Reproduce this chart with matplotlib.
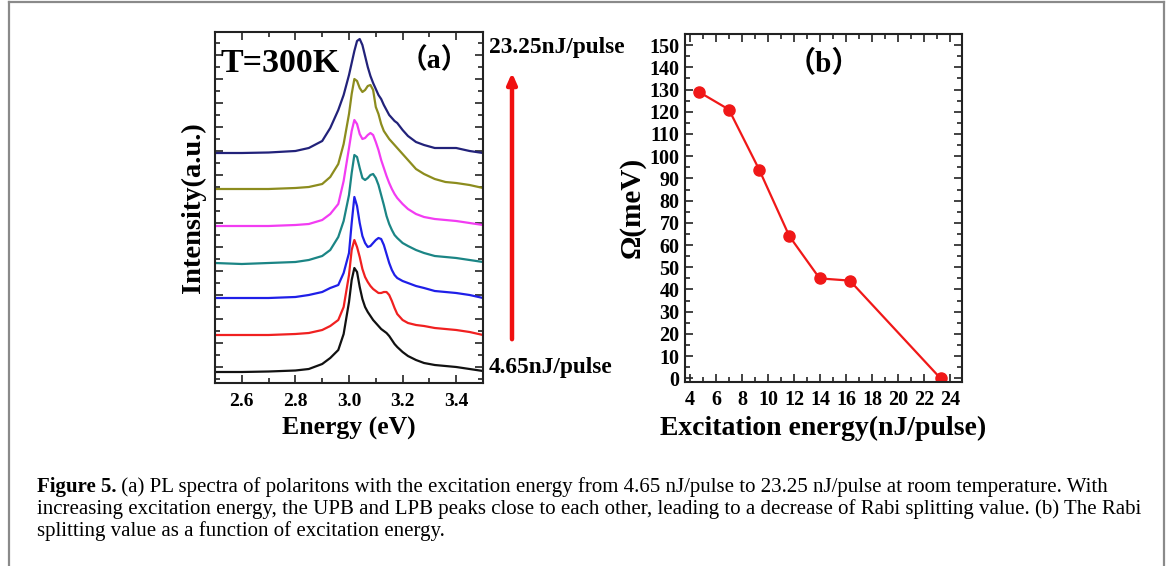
import numpy as np
import matplotlib
matplotlib.use("Agg")
import matplotlib.pyplot as plt
from matplotlib.ticker import MultipleLocator, FixedLocator, NullFormatter
from matplotlib.patches import FancyArrowPatch
from matplotlib.lines import Line2D

# ---------------- data: panel (a) PL spectra ----------------
energy = [2.50, 2.60, 2.70, 2.80, 2.85, 2.90, 2.93, 2.96, 2.98, 3.00, 3.01, 3.02,
          3.03, 3.04, 3.05, 3.06, 3.07, 3.08, 3.09, 3.10, 3.11, 3.12, 3.13, 3.14,
          3.15, 3.16, 3.17, 3.18, 3.20, 3.22, 3.25, 3.28, 3.32, 3.36, 3.40, 3.45, 3.50]

pl_black = [0, 0, 0.5, 1.5, 3, 8, 14, 22, 38, 70, 92, 104, 100, 85, 73, 65, 60, 56, 52,
            49, 46, 43, 41, 39, 36, 32, 28, 25, 20, 16, 12, 9, 7, 6, 5, 3, 1]
pl_red = [0, 0, 0, 1, 2, 5, 9, 15, 28, 60, 85, 95, 88, 78, 66, 58, 53, 49, 46,
          44, 42, 42, 43, 43, 40, 34, 27, 21, 15, 12, 10, 9, 7, 6, 5, 3, 0]
pl_blue = [0, 0, 0, 1, 3, 6, 10, 13, 25, 45, 75, 101, 92, 75, 62, 55, 51, 52, 55,
           58, 60, 59, 53, 44, 35, 28, 23, 20, 17, 15, 12, 10, 7, 6, 5, 3, 0]
pl_teal = [0, -1, 0, 1, 3, 7, 13, 26, 42, 68, 90, 108, 106, 95, 85, 83, 85, 88, 89,
           85, 78, 68, 58, 47, 39, 33, 28, 25, 20, 17, 13, 10, 7, 6, 5, 3, 1]
pl_magenta = [0, 0, 0, 1, 2, 6, 12, 22, 45, 78, 95, 106, 102, 92, 87, 88, 91, 93, 91,
              84, 76, 66, 58, 50, 43, 37, 32, 28, 22, 17, 12, 9, 7, 6, 5, 3, 1]
pl_olive = [0, 0, 0, 1, 2, 5, 12, 25, 45, 75, 95, 110, 108, 101, 97, 99, 103, 104, 99,
            82, 75, 65, 58, 54, 50, 47, 44, 41, 35, 29, 20, 15, 10, 7, 6, 4, 1]
pl_navy = [0, 0, 0.5, 2, 5, 12, 25, 43, 58, 78, 90, 102, 112, 114, 108, 97, 86, 77, 70,
           64, 58, 54, 48, 43, 38, 35, 32, 30, 23, 17, 11, 8, 5, 5, 5, 2, 0]

spectra = [pl_black, pl_red, pl_blue, pl_teal, pl_magenta, pl_olive, pl_navy]
offsets = [11, 48, 85, 120, 157, 194, 230]
colors = ["#111111", "#f02020", "#1f1fe8", "#1b8585", "#f23cf2", "#8c8c1e", "#22227a"]

label_low = "4.65nJ/pulse"
label_high = "23.25nJ/pulse"

# ---------------- data: panel (b) Rabi splitting ----------------
excitation = [4.65, 6.975, 9.3, 11.625, 13.95, 16.275, 23.25]
rabi = [129, 121, 94, 64, 45, 44, 0]

caption_bold = "Figure 5."
caption_lines = [
    " (a) PL spectra of polaritons with the excitation energy from 4.65 nJ/pulse to 23.25 nJ/pulse at room temperature. With",
    "increasing excitation energy, the UPB and LPB peaks close to each other, leading to a decrease of Rabi splitting value. (b) The Rabi",
    "splitting value as a function of excitation energy.",
]

# ---------------- figure ----------------
W, H = 1171, 566
fig = plt.figure(figsize=(W / 100, H / 100), dpi=100)
serif = ["Liberation Serif", "Noto Sans CJK SC", "DejaVu Serif"]
plt.rcParams["font.family"] = serif


def fx(px):
    return px / W


def fy(py):
    return 1 - py / H


# panel (a)
axA = fig.add_axes([fx(215), fy(383), fx(483) - fx(215), fy(32) - fy(383)])
for spec, off, c in zip(spectra, offsets, colors):
    axA.plot(energy, np.array(spec) + off, color=c, lw=1.6)
axA.set_xlim(2.5, 3.5)
axA.set_ylim(0, 351)
axA.xaxis.set_major_locator(FixedLocator([2.6, 2.8, 3.0, 3.2, 3.4]))
axA.xaxis.set_minor_locator(MultipleLocator(0.1))
axA.yaxis.set_major_locator(FixedLocator(np.arange(16, 351, 24)))
axA.yaxis.set_minor_locator(FixedLocator(np.arange(4, 351, 12)))
axA.yaxis.set_major_formatter(NullFormatter())
axA.set_xlabel("Energy (eV)", fontsize=18.5, fontweight="bold", labelpad=5)
axA.set_ylabel("Intensity(a.u.)", fontsize=20.5, fontweight="bold", labelpad=3)
axA.text(0.02, 0.955, "T=300K", transform=axA.transAxes, fontsize=24.5,
         fontweight="bold", va="top", ha="left")
axA.text(0.82, 0.955, "（a）", transform=axA.transAxes, fontsize=20,
         fontweight="bold", va="top", ha="center")

# panel (b)
axB = fig.add_axes([fx(685), fy(381.7), fx(962) - fx(685), fy(34) - fy(381.7)])
axB.plot(excitation, rabi, color="#f01818", lw=1.6, marker="o", ms=8,
         markerfacecolor="#f01818", markeredgecolor="#f01818")
axB.set_xlim(3.6, 24.9)
axB.set_ylim(-1.5, 155)
axB.xaxis.set_major_locator(MultipleLocator(2))
axB.xaxis.set_minor_locator(MultipleLocator(1))
axB.yaxis.set_major_locator(MultipleLocator(10))
axB.yaxis.set_minor_locator(MultipleLocator(5))
axB.set_xlabel("Excitation energy(nJ/pulse)", fontsize=20, fontweight="bold", labelpad=4)
axB.set_ylabel("Ω(meV)", fontsize=21, fontweight="bold", labelpad=3)
axB.text(0.5, 0.955, "（b）", transform=axB.transAxes, fontsize=21,
         fontweight="bold", va="top", ha="center")

for ax in (axA, axB):
    for s in ax.spines.values():
        s.set_linewidth(1.5)
        s.set_color("#222222")
    ax.tick_params(which="both", direction="in", top=True, right=True,
                   color="#222222", width=1.2)
    ax.tick_params(which="major", length=6)
    ax.tick_params(which="minor", length=3.5)
axA.tick_params(axis="x", labelsize=14, pad=7)
axB.tick_params(axis="x", labelsize=14.5, pad=6)
axB.tick_params(axis="y", labelsize=14.5, pad=4)
for ax in (axA, axB):
    for lab in ax.get_xticklabels() + ax.get_yticklabels():
        lab.set_fontweight("bold")

# excitation range annotation
fig.text(fx(489), fy(47), label_high, fontsize=16.8, fontweight="bold",
         ha="left", va="center")
fig.text(fx(489), fy(368), label_low, fontsize=16.8, fontweight="bold",
         ha="left", va="center")
arrow = FancyArrowPatch((fx(512), fy(342)), (fx(512), fy(70)),
                        transform=fig.transFigure, arrowstyle="-|>,head_length=0.45,head_width=0.2",
                        mutation_scale=14, color="#f01010", lw=3.2)
fig.patches.append(arrow)

# frame around the figure (open at the bottom)
frame_kw = dict(transform=fig.transFigure, color="#8a8a8a", lw=1.6)
fig.lines.append(Line2D([fx(9), fx(9)], [fy(2), 0], **frame_kw))
fig.lines.append(Line2D([fx(9), fx(1164)], [fy(2), fy(2)], **frame_kw))
fig.lines.append(Line2D([fx(1164), fx(1164)], [fy(2), 0], **frame_kw))

# caption
cap_size = 15.0
t0 = fig.text(fx(37), fy(487), caption_bold, fontsize=cap_size, fontweight="bold",
              ha="left", va="center")
fig.canvas.draw()
bb = t0.get_window_extent()
x_after = bb.x1 / W
fig.text(x_after, fy(487), caption_lines[0], fontsize=cap_size, ha="left", va="center")
fig.text(fx(37), fy(509), caption_lines[1], fontsize=cap_size, ha="left", va="center")
fig.text(fx(37), fy(531), caption_lines[2], fontsize=cap_size, ha="left", va="center")

fig.savefig("out.png", dpi=100)
